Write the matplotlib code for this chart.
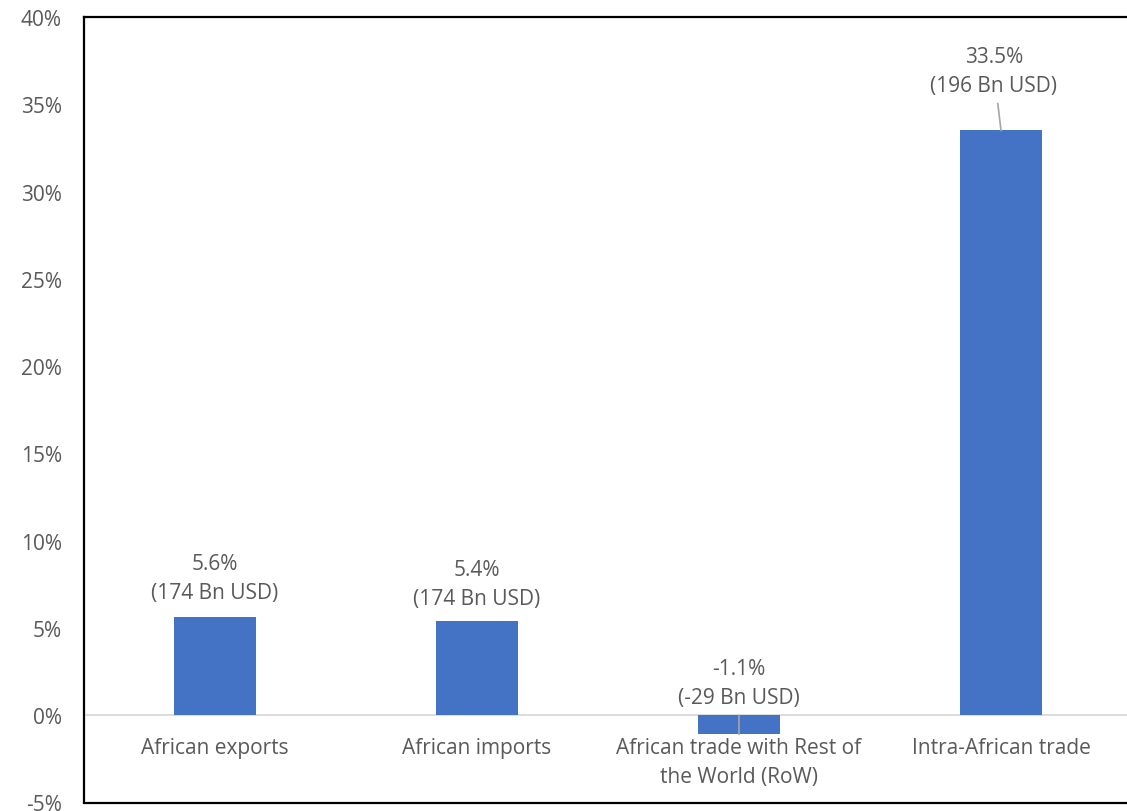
import matplotlib.pyplot as plt
from matplotlib.ticker import FuncFormatter

# growth rates of African trade flows
categories = ["African exports", "African imports",
              "African trade with Rest of\nthe World (RoW)", "Intra-African trade"]
growth = [5.6, 5.4, -1.1, 33.5]
value_bn = [174, 174, -29, 196]
yticks = [-5, 0, 5, 10, 15, 20, 25, 30, 35, 40]

BAR = "#4472C4"
TXT = "#595959"
FS = 15

plt.rcParams['font.family'] = ['Open Sans', 'DejaVu Sans']

fig = plt.figure(figsize=(11.27, 8.12), dpi=100)
ax = fig.add_axes([84/1127, 1-803.5/812, 1048/1127, 785.5/812])

x = list(range(len(categories)))
ax.bar(x, growth, width=0.31, color=BAR, zorder=2)
ax.axhline(0, color="#d9d9d9", lw=1.3, zorder=1)

ax.set_xlim(-0.5, 3.5)
ax.set_ylim(-5, 40)
ax.set_yticks(yticks)
ax.yaxis.set_major_formatter(FuncFormatter(lambda v, p: f"{v:.0f}%"))
ax.tick_params(axis='y', length=0, pad=16, labelsize=FS, labelcolor=TXT)
ax.set_xticks([])

for s in ax.spines.values():
    s.set_color("black")
    s.set_linewidth(1.6)

# category names sit just under the zero line
for i, name in enumerate(categories):
    ax.annotate(name, (i, 0), xytext=(0, -22), textcoords='offset pixels',
                ha='center', va='top', fontsize=FS, color=TXT, linespacing=1.5)

# value labels; the small and tall bars get a leader line
offsets = [(0, 39), (0, 37), (0, 51), (-7, 59)]
for i, (g, v) in enumerate(zip(growth, value_bn)):
    lbl = f"{g:.1f}%\n({v} Bn USD)"
    leader = i >= 2
    ax.annotate(lbl, (i, g), xytext=offsets[i], textcoords='offset pixels',
                ha='center', va='center', fontsize=FS, color=TXT, linespacing=1.5,
                arrowprops=dict(arrowstyle='-', color="#a6a6a6", lw=1.2,
                                shrinkA=3, shrinkB=0) if leader else None,
                zorder=3)

fig.savefig("out.png", dpi=100)
